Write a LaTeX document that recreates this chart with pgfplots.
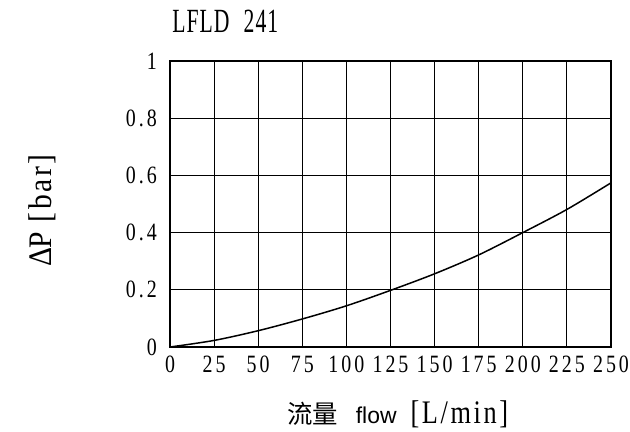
\documentclass[border=0pt]{standalone}
\usepackage{fontspec}
\usepackage{pgfplots}
\pgfplotsset{compat=1.18}
\newfontfamily\tickfont[FakeStretch=0.8,LetterSpace=12]{Liberation Serif}
\newfontfamily\labfont[FakeStretch=0.8,LetterSpace=8]{Liberation Serif}
\newfontfamily\ylabfont[FakeStretch=0.9,LetterSpace=8]{Liberation Serif}
\newfontfamily\titfont[FakeStretch=0.64,LetterSpace=3]{Liberation Serif}
\newfontfamily\cjk{Noto Sans CJK SC}
\newfontfamily\arial{Liberation Sans}
\begin{document}
\begin{tikzpicture}
\useasboundingbox (0,0) rectangle (630bp,432bp);
\begin{axis}[
  at={(170bp,85bp)}, anchor=south west,
  scale only axis, width=441bp, height=286bp,
  xmin=0, xmax=250, ymin=0, ymax=1,
  xtick={0,25,...,250}, ytick={0,0.2,0.4,0.6,0.8,1},
  grid=major, major grid style={black, line width=1.1pt},
  axis line style={black, line width=1.4pt},
  major tick length=0pt,
  /pgf/number format/assume math mode=true,
  ticklabel style={font=\tickfont\fontsize{25}{25}\selectfont, inner sep=0pt},
  xticklabel style={anchor=base, yshift=-25bp},
  yticklabel style={anchor=east, xshift=-13bp},
  title={\titfont\fontsize{34}{34}\selectfont LFLD\hspace{14bp}241},
  title style={at={(axis description cs:0.005,1.080)}, anchor=base west, inner sep=0pt},
  xlabel={{\cjk\fontsize{25.5}{25.5}\selectfont 流量}\hspace{18bp}{\arial\fontsize{23}{23}\selectfont flow}\hspace{14bp}{\labfont\fontsize{33}{33}\selectfont [L/min]}},
  xlabel style={at={(axis description cs:0.265,-0.266)}, anchor=base west, inner sep=0pt},
  ylabel={\ylabfont\fontsize{33}{33}\selectfont Δ\kern-1bp P\hspace{10bp}[bar]},
  ylabel style={at={(axis description cs:-0.268,0.28)}, anchor=base west, inner sep=0pt, rotate=0},
]
\addplot[black, line width=1.5pt, smooth] coordinates {
(0,0) (25,0.023) (50,0.057) (75,0.098) (100,0.144) (125,0.198)
(150,0.256) (175,0.322) (200,0.4) (225,0.481) (250,0.574)};
\end{axis}
\end{tikzpicture}
\end{document}
